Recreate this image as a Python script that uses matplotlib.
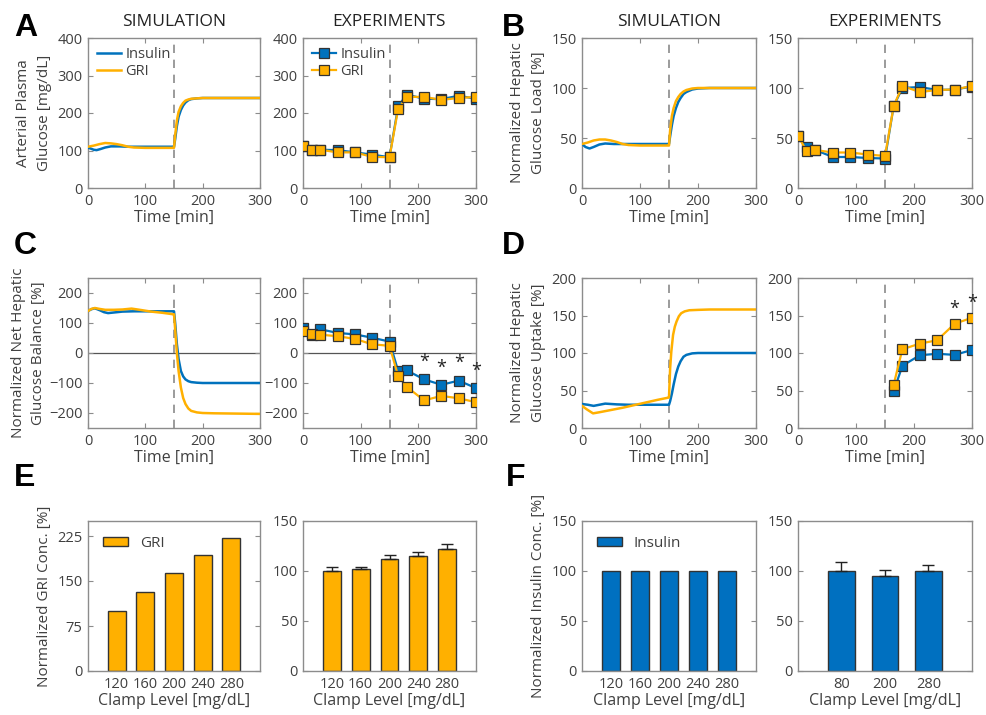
import numpy as np
import matplotlib.pyplot as plt

plt.rcParams['font.family'] = ['Open Sans', 'DejaVu Sans']

BLUE = '#0072BD'
ORANGE = '#FFB000'
BAR_BLUE = '#0070C0'
GRAY = '#8c8c8c'
TXT = '#404040'

# ---- simulation curves ----
simA_ins_t = [0, 5, 10, 15, 22, 30, 40, 55, 70, 100, 149, 150, 152, 155, 158, 162, 166, 170, 175, 180, 190, 200, 220, 300]
simA_ins = [108, 105, 102, 101, 104, 108, 111, 111, 110, 110, 110, 110, 130, 165, 190, 208, 220, 228, 234, 237, 239, 240, 240, 240]
simA_gri_t = [0, 10, 20, 30, 40, 50, 60, 70, 80, 100, 149, 150, 152, 155, 158, 162, 166, 170, 175, 180, 190, 200, 220, 300]
simA_gri = [110, 113, 117, 120, 119, 117, 114, 110, 108, 107, 107, 107, 140, 180, 203, 218, 227, 233, 236, 238, 239, 240, 240, 240]

simB_ins_t = [0, 6, 13, 20, 30, 40, 55, 70, 100, 149, 150, 152, 155, 158, 162, 166, 170, 175, 180, 190, 200, 220, 300]
simB_ins = [44, 41, 39.5, 41, 43.5, 44.5, 44, 44, 44, 44, 44, 52, 63, 72, 80, 86, 90, 94, 96, 98.5, 99.5, 100, 100]
simB_gri_t = [0, 10, 20, 30, 40, 50, 60, 70, 80, 100, 149, 150, 152, 155, 158, 162, 166, 170, 175, 180, 190, 200, 220, 300]
simB_gri = [44, 45.5, 47.5, 48.5, 48.5, 47.5, 46, 44, 43, 42.5, 42.5, 42.5, 58, 72, 80, 87, 91, 94, 96.5, 98, 99.5, 100, 100, 100]

simC_ins_t = [0, 6, 12, 20, 28, 35, 45, 60, 80, 100, 130, 149, 150, 152, 155, 158, 162, 166, 170, 175, 180, 190, 200, 220, 300]
simC_ins = [140, 146, 149, 143, 136, 133, 135, 138, 139, 139, 139, 139, 139, 100, 30, -20, -60, -78, -88, -94, -97, -99, -100, -100, -100]
simC_gri_t = [0, 6, 12, 20, 30, 45, 60, 76, 90, 110, 130, 149, 150, 152, 155, 158, 162, 166, 170, 175, 180, 190, 200, 220, 300]
simC_gri = [140, 147, 150, 147, 144, 144, 145, 148, 144, 138, 134, 129, 129, 80, 0, -60, -115, -150, -170, -185, -193, -198, -200, -201, -203]

simD_ins_t = [0, 10, 20, 30, 40, 60, 80, 100, 149, 150, 152, 155, 158, 162, 166, 170, 175, 180, 190, 200, 220, 300]
simD_ins = [32, 31, 29.5, 31, 32.5, 31.5, 31, 31, 31, 31, 36, 46, 58, 72, 82, 89, 95, 97.5, 99.5, 100, 100, 100]
simD_gri_t = [0, 8, 19, 30, 50, 70, 90, 110, 130, 149, 150, 152, 154, 157, 160, 163, 167, 171, 177, 185, 200, 220, 300]
simD_gri = [29.5, 25, 19.5, 21, 24, 27, 30.5, 34, 37.5, 40.5, 41, 80, 102, 124, 135, 142, 149, 153, 155.5, 157, 157.5, 158, 158]

# ---- experiments ----
exp_t = [0, 15, 30, 60, 90, 120, 150, 165, 180, 210, 240, 270, 300]
expA_ins = [111, 102, 102, 101, 95, 89, 82, 218, 249, 238, 237, 246, 238]
expA_gri = [111, 101, 102, 95, 95, 83, 82, 211, 243, 243, 235, 240, 243]
expB_ins = [52, 41, 38, 31, 31, 30, 29.5, 82, 100, 101, 98, 98.5, 101.5]
expB_gri = [52, 37, 38, 35.5, 35.5, 33.5, 32, 82, 102, 96, 98, 98.5, 102]
expC_ins = [83, 59, 79, 67, 62, 51, 38, -60, -58, -88, -106, -92, -117]
expC_gri = [72, 64, 61, 56, 47, 29, 24, -77, -113, -158, -143, -151, -164]
expD_t = [165, 180, 210, 240, 270, 300]
expD_ins = [49, 83, 97, 99, 97.5, 104]
expD_gri = [58, 105, 112.5, 117, 139, 147]
sigC_t = [210, 240, 270, 300]
sigD_t = [270, 300]

# ---- bars ----
clamp_sim = ['120', '160', '200', '240', '280']
gri_sim = [100, 132, 163, 193, 222]
gri_exp = [100, 102, 112, 115, 122]
gri_exp_err = [4, 2.5, 3.7, 4.5, 5.5]
ins_sim = [100, 100, 100, 100, 100]
clamp_ins_exp = ['80', '200', '280']
ins_exp = [100, 95.5, 100]
ins_exp_err = [9, 6, 6.5]

W, H = 987, 715
fig = plt.figure(figsize=(W / 100, H / 100), dpi=100)


def add_ax(left, right, top, bottom):
    return fig.add_axes([left / W, 1 - bottom / H, (right - left) / W, (bottom - top) / H])


def style(ax):
    for s in ax.spines.values():
        s.set_color(GRAY)
        s.set_linewidth(1.0)
    ax.tick_params(direction='in', length=3.5, width=0.8, color=GRAY,
                   labelcolor=TXT, labelsize=10.5, top=True, right=True, pad=4)


def time_axes(ax, ylim, yticks):
    style(ax)
    ax.set_xlim(0, 300)
    ax.set_xticks([0, 100, 200, 300])
    ax.set_ylim(*ylim)
    ax.set_yticks(yticks)
    ax.set_xlabel('Time [min]', fontsize=11.5, color=TXT, labelpad=1)
    ax.axvline(150, color='#8a8a8a', ls=(0, (5, 4)), lw=1.2, zorder=1)


def sim_plot(ax, ti, yi, tg, yg):
    ax.plot(ti, yi, color=BLUE, lw=1.8, label='Insulin', zorder=3)
    ax.plot(tg, yg, color=ORANGE, lw=1.8, label='GRI', zorder=4)


def exp_plot(ax, t, yi, yg):
    kw = dict(marker='s', ms=6.5, mec='#333333', mew=0.9, lw=1.6)
    ax.plot(t, yi, color=BLUE, mfc=BLUE, label='Insulin', zorder=3, **kw)
    ax.plot(t, yg, color=ORANGE, mfc=ORANGE, label='GRI', zorder=4, **kw)


def ylab(ax, text, pad=4):
    ax.set_ylabel(text, fontsize=11, color=TXT, linespacing=1.5, labelpad=pad)


def line_legend(ax):
    ax.legend(loc='upper left', frameon=False, fontsize=10.5, handlelength=1.6,
              handletextpad=0.3, borderaxespad=0.35, borderpad=0.3,
              labelspacing=0.1, labelcolor=TXT)


# column positions (px)
colL = [(88, 260), (303, 476), (582, 756), (798, 972)]
rows = [(38, 188), (278, 428), (521, 671)]

# ---------- A ----------
axA1 = add_ax(*colL[0], *rows[0])
sim_plot(axA1, simA_ins_t, simA_ins, simA_gri_t, simA_gri)
time_axes(axA1, (0, 400), [0, 100, 200, 300, 400])
ylab(axA1, 'Arterial Plasma\nGlucose [mg/dL]')
line_legend(axA1)
axA2 = add_ax(*colL[1], *rows[0])
exp_plot(axA2, exp_t, expA_ins, expA_gri)
time_axes(axA2, (0, 400), [0, 100, 200, 300, 400])
line_legend(axA2)

# ---------- B ----------
axB1 = add_ax(*colL[2], *rows[0])
sim_plot(axB1, simB_ins_t, simB_ins, simB_gri_t, simB_gri)
time_axes(axB1, (0, 150), [0, 50, 100, 150])
ylab(axB1, 'Normalized Hepatic\nGlucose Load [%]')
axB2 = add_ax(*colL[3], *rows[0])
exp_plot(axB2, exp_t, expB_ins, expB_gri)
time_axes(axB2, (0, 150), [0, 50, 100, 150])

# ---------- C ----------
axC1 = add_ax(*colL[0], *rows[1])
axC1.axhline(0, color='#555555', lw=0.9, zorder=1)
sim_plot(axC1, simC_ins_t, simC_ins, simC_gri_t, simC_gri)
time_axes(axC1, (-250, 250), [-200, -100, 0, 100, 200])
ylab(axC1, 'Normalized Net Hepatic\nGlucose Balance [%]', pad=2)
axC2 = add_ax(*colL[1], *rows[1])
axC2.axhline(0, color='#555555', lw=0.9, zorder=1)
exp_plot(axC2, exp_t, expC_ins, expC_gri)
time_axes(axC2, (-250, 250), [-200, -100, 0, 100, 200])
for ts in sigC_t:
    v = expC_ins[exp_t.index(ts)]
    axC2.annotate('*', (ts, v), xytext=(0, 6), textcoords='offset points',
                  ha='center', va='bottom', fontsize=13, color='#222222')

# ---------- D ----------
axD1 = add_ax(*colL[2], *rows[1])
sim_plot(axD1, simD_ins_t, simD_ins, simD_gri_t, simD_gri)
time_axes(axD1, (0, 200), [0, 50, 100, 150, 200])
ylab(axD1, 'Normalized Hepatic\nGlucose Uptake [%]')
axD2 = add_ax(*colL[3], *rows[1])
exp_plot(axD2, expD_t, expD_ins, expD_gri)
time_axes(axD2, (0, 200), [0, 50, 100, 150, 200])
for ts in sigD_t:
    v = expD_gri[expD_t.index(ts)]
    axD2.annotate('*', (ts, v), xytext=(0, 4), textcoords='offset points',
                  ha='center', va='bottom', fontsize=13, color='#222222')


# ---------- E / F bars ----------
def bar_axes(ax, labels, vals, color, ylim, yticks, err=None, label=None):
    style(ax)
    x = np.arange(1, len(labels) + 1)
    ax.bar(x, vals, width=0.62, color=color, edgecolor='#333333', linewidth=1.0,
           label=label, zorder=2)
    if err is not None:
        ax.errorbar(x, vals, yerr=[np.zeros(len(err)), err], fmt='none', ecolor='#222222',
                    elinewidth=1.0, capsize=4, capthick=1.0, zorder=3)
    ax.set_xlim(0, len(labels) + 1)
    ax.set_xticks(x)
    ax.set_xticklabels(labels)
    ax.tick_params(axis='x', length=0)
    ax.set_ylim(*ylim)
    ax.set_yticks(yticks)
    ax.set_xlabel('Clamp Level [mg/dL]', fontsize=11.5, color=TXT, labelpad=1)


def bar_legend(ax):
    ax.legend(loc='upper left', frameon=False, fontsize=11, handlelength=1.6,
              handleheight=0.55, handletextpad=0.8, borderaxespad=0.6, labelcolor=TXT)


axE1 = add_ax(*colL[0], *rows[2])
bar_axes(axE1, clamp_sim, gri_sim, ORANGE, (0, 250), [0, 75, 150, 225], label='GRI')
ylab(axE1, 'Normalized GRI Conc. [%]')
bar_legend(axE1)
axE2 = add_ax(*colL[1], *rows[2])
bar_axes(axE2, clamp_sim, gri_exp, ORANGE, (0, 150), [0, 50, 100, 150], err=gri_exp_err)

axF1 = add_ax(*colL[2], *rows[2])
bar_axes(axF1, clamp_sim, ins_sim, BAR_BLUE, (0, 150), [0, 50, 100, 150], label='Insulin')
ylab(axF1, 'Normalized Insulin Conc. [%]')
bar_legend(axF1)
axF2 = add_ax(*colL[3], *rows[2])
bar_axes(axF2, clamp_ins_exp, ins_exp, BAR_BLUE, (0, 150), [0, 50, 100, 150], err=ins_exp_err)

# ---------- titles and panel letters ----------
for ax, t in [(axA1, 'SIMULATION'), (axA2, 'EXPERIMENTS'), (axB1, 'SIMULATION'), (axB2, 'EXPERIMENTS')]:
    ax.set_title(t, fontsize=12.5, color='#222222', pad=9)

for letter, x, y in [('A', 14, 28), ('B', 502, 28), ('C', 14, 246), ('D', 502, 246),
                     ('E', 14, 478), ('F', 506, 478)]:
    fig.text(x / W, 1 - y / H, letter, fontsize=23, fontweight='bold',
             family='Liberation Sans', va='center', ha='left', color='black')

fig.savefig('out.png', dpi=100)
